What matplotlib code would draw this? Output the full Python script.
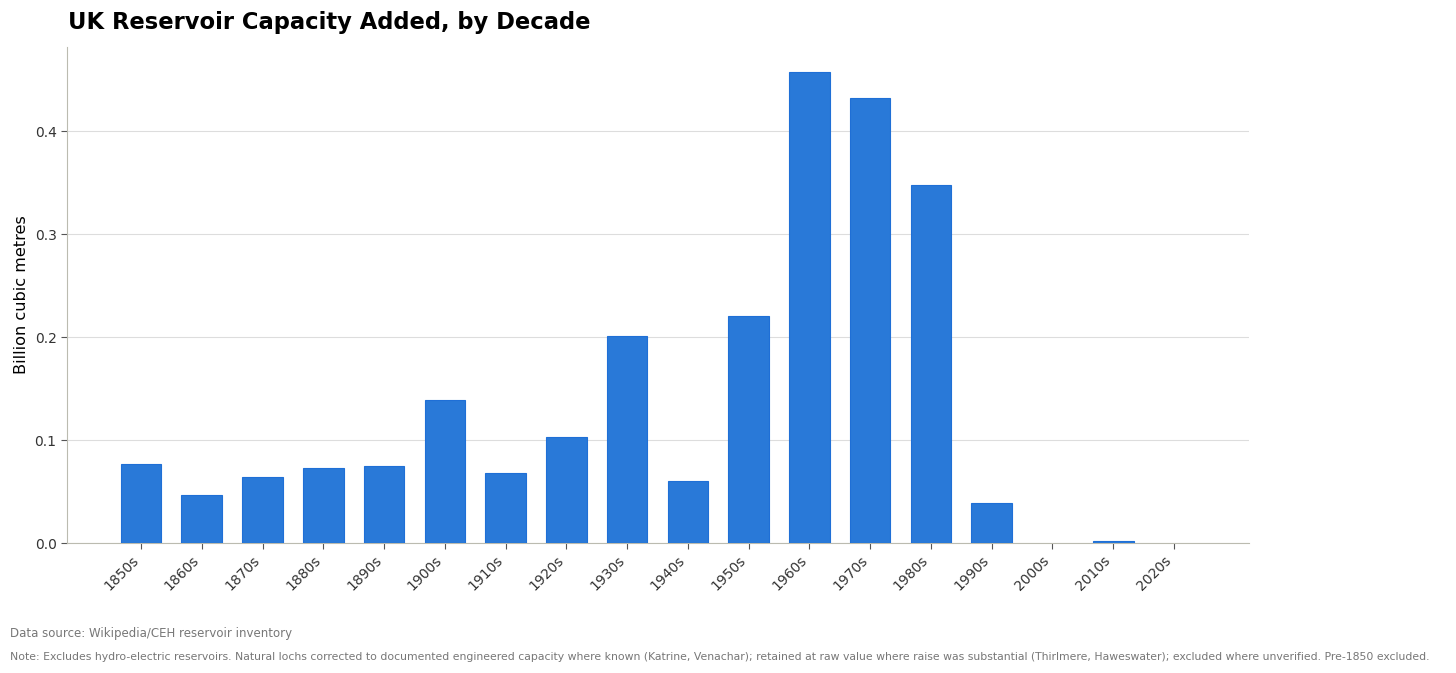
import matplotlib
matplotlib.use("Agg")
import matplotlib.pyplot as plt
import numpy as np

decades = ["1850s", "1860s", "1870s", "1880s", "1890s", "1900s", "1910s", "1920s", "1930s",
           "1940s", "1950s", "1960s", "1970s", "1980s", "1990s", "2000s", "2010s", "2020s"]
capacity = [0.0767, 0.0466, 0.0645, 0.0728, 0.0748, 0.139, 0.068, 0.103, 0.201,
            0.0605, 0.2205, 0.4575, 0.432, 0.3475, 0.0388, 0.0, 0.0025, 0.0]

fig = plt.figure(figsize=(14.56, 6.73), dpi=100)
ax = fig.add_axes([0.046, 0.193, 0.812, 0.737])

x = np.arange(len(decades))
lw = [0.8 if v > 0 else 0 for v in capacity]
ax.bar(x, capacity, width=0.67, color="#2979d8", edgecolor="#1f6fd6", linewidth=lw, zorder=3)

ax.set_xticks(x)
ax.set_xticklabels(decades, rotation=45, ha="right", fontsize=10, color="#333333")
ax.set_xlim(-1.22, 18.24)
ax.set_ylim(0, 0.4816)
ax.set_yticks([0.0, 0.1, 0.2, 0.3, 0.4])
ax.set_yticklabels(["0.0", "0.1", "0.2", "0.3", "0.4"], fontsize=10, color="#333333")
ax.tick_params(axis="both", colors="#555555", labelcolor="#333333", length=4)
ax.yaxis.grid(True, color="#dddddd", linewidth=0.8, zorder=0)
ax.set_axisbelow(True)
for s in ["top", "right"]:
    ax.spines[s].set_visible(False)
for s in ["left", "bottom"]:
    ax.spines[s].set_color("#bbbbb0")
ax.set_ylabel("Billion cubic metres", fontsize=11.6)

fig.text(0.0465, 0.966, "UK Reservoir Capacity Added, by Decade", fontsize=16.3, fontweight="bold",
         ha="left", va="center")
fig.text(0.007, 0.058, "Data source: Wikipedia/CEH reservoir inventory", fontsize=8.45, color="#777777",
         ha="left", va="center")
fig.text(0.007, 0.024,
         "Note: Excludes hydro-electric reservoirs. Natural lochs corrected to documented engineered capacity where known (Katrine, Venachar); retained at raw value where raise was substantial (Thirlmere, Haweswater); excluded where unverified. Pre-1850 excluded.",
         fontsize=7.84, color="#777777", ha="left", va="center")

fig.savefig("out.png", dpi=100)
